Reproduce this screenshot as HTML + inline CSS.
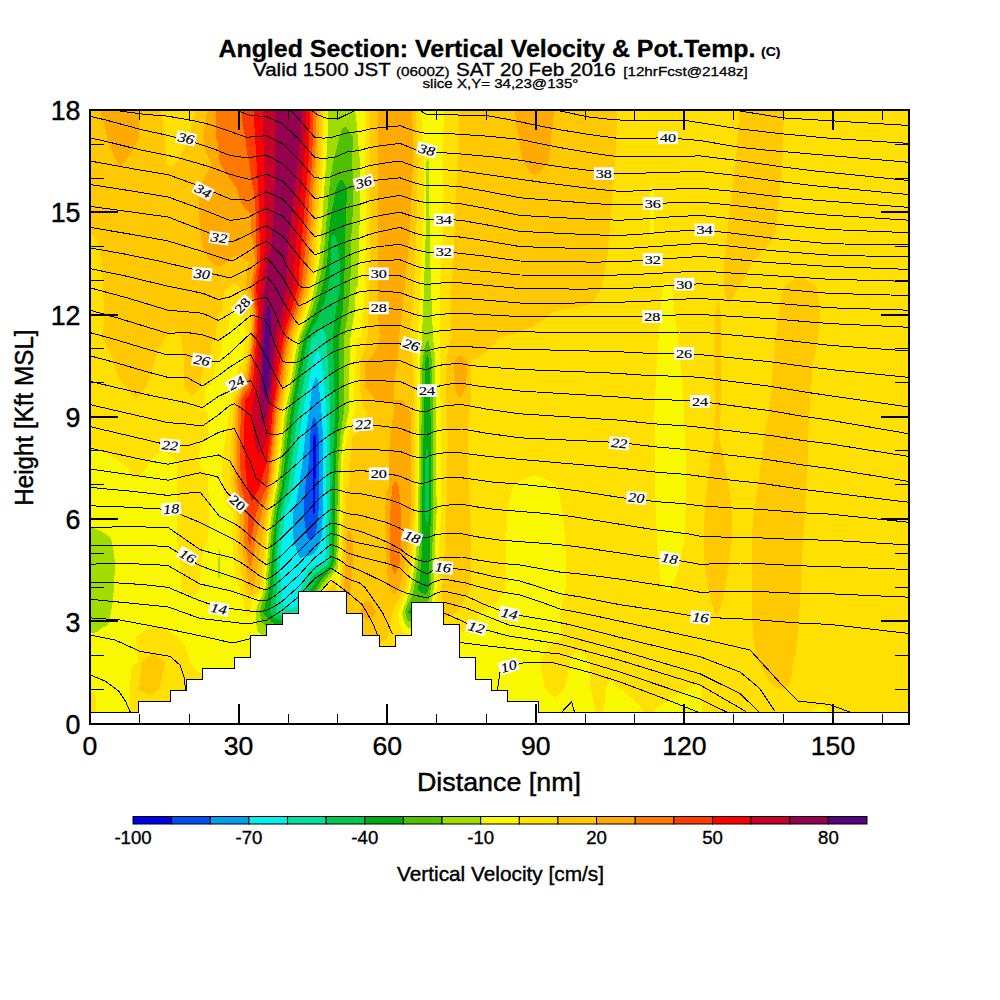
<!DOCTYPE html>
<html><head><meta charset="utf-8"><title>Angled Section: Vertical Velocity &amp; Pot.Temp.</title>
<style>html,body{margin:0;padding:0;background:#fff}svg{display:block}text{font-family:"Liberation Sans",sans-serif;fill:#000}.lb text{font-family:"Liberation Serif","DejaVu Serif",serif}</style></head><body>
<svg width="1000" height="1000" viewBox="0 0 1000 1000">
<rect width="1000" height="1000" fill="#fff"/>
<g shape-rendering="crispEdges">
<rect x="90" y="110" width="819" height="602.5" fill="#ffe000"/>
<path fill="#ffc800" fill-rule="evenodd" d="M90.0 110.0 161.0 110.0 164.9 137.0 166.0 162.0 167.4 164.0 171.0 167.2 175.5 163.0 178.0 159.5 184.2 149.0 189.8 138.0 191.7 123.0 195.0 112.0 195.0 110.0 322.4 110.0 321.5 138.0 319.0 187.0 313.8 263.0 309.5 288.0 306.0 301.4 302.8 313.0 298.0 325.3 293.9 338.0 289.5 362.0 285.9 388.0 281.1 412.0 273.0 487.0 268.1 512.0 266.5 524.0 263.0 562.4 260.0 587.0 257.6 591.0 252.0 595.6 248.0 595.2 245.4 591.0 239.1 558.0 237.0 538.0 236.5 513.0 231.4 488.0 230.0 463.0 234.0 400.0 235.1 396.0 239.0 387.2 240.7 378.0 244.0 369.6 245.9 363.0 249.4 338.0 249.7 312.0 240.0 287.4 237.0 284.5 234.0 282.5 229.0 287.5 225.9 289.0 224.5 291.0 223.5 296.0 222.0 312.0 220.0 312.1 218.0 314.0 217.3 316.0 216.5 323.0 216.1 337.0 213.0 340.7 211.7 344.0 210.6 351.0 210.0 362.1 205.0 365.8 203.0 369.4 201.6 375.0 200.0 388.0 196.2 392.0 192.0 395.3 187.9 392.0 184.2 387.0 184.2 362.0 181.1 338.0 177.9 333.0 173.0 329.0 165.4 337.0 160.0 346.8 155.0 359.4 148.6 381.0 146.2 387.0 144.0 390.9 140.5 395.0 136.0 398.3 130.3 393.0 127.0 387.9 121.7 382.0 118.8 377.0 116.3 371.0 113.8 362.0 103.0 337.9 104.0 314.0 103.8 303.0 101.9 270.0 100.2 253.0 99.0 246.0 97.4 241.0 90.0 230.4ZM369.6 110.0 416.0 110.0 417.6 162.0 417.0 212.0 414.0 287.0 412.3 313.0 410.0 337.0 411.2 351.0 413.1 362.0 414.5 412.0 414.0 512.0 412.4 537.0 409.5 562.0 405.4 587.0 392.5 611.0 388.1 637.0 385.3 640.0 380.0 643.8 369.0 640.3 361.4 637.0 353.3 631.0 346.0 624.2 344.3 618.0 342.5 608.0 341.0 588.0 342.7 562.0 344.0 512.7 346.0 512.0 346.0 488.0 347.0 487.0 349.0 487.0 349.0 463.0 350.0 462.9 351.2 458.0 352.0 438.0 358.0 432.1 361.6 427.0 364.5 421.0 367.1 413.0 364.2 407.0 362.4 402.0 359.7 387.0 360.2 362.0 367.7 337.0 370.6 213.0 369.6 162.0ZM459.0 110.0 617.0 110.0 616.7 126.0 615.3 159.0 608.0 251.0 602.1 287.0 598.5 294.0 595.0 299.0 590.0 304.2 552.0 312.6 542.0 321.0 531.0 327.4 517.0 332.9 500.0 337.5 494.3 344.0 488.0 350.1 480.0 356.6 474.0 359.6 471.0 363.0 470.6 402.0 469.9 410.0 469.0 413.0 467.8 438.0 467.8 462.0 471.0 537.0 471.0 587.0 457.7 612.0 455.0 613.6 443.0 618.2 441.0 612.0 442.7 581.0 443.0 562.9 444.4 555.0 445.7 529.0 446.8 497.0 447.7 438.0 446.0 387.0 446.0 363.0 448.0 350.5 451.0 337.0 451.0 288.0 452.5 277.0 454.0 237.8 454.7 231.0 456.0 187.9 457.2 179.0 458.6 151.0ZM739.0 110.0 784.0 110.0 782.6 155.0 781.4 177.0 780.0 187.7 779.1 203.0 776.3 228.0 774.6 236.0 773.6 238.0 766.0 247.5 752.0 262.7 746.0 275.6 738.0 287.5 734.2 296.0 730.0 302.7 728.0 301.7 726.0 299.3 724.5 293.0 724.0 287.0 724.5 260.0 725.4 247.0 727.0 237.3 728.1 223.0 730.0 212.3 731.4 196.0 733.0 187.3 734.3 171.0 736.0 162.2 736.8 147.0 738.0 137.2ZM791.0 281.3 800.0 276.8 803.0 278.0 809.0 281.0 816.5 287.0 818.3 296.0 820.0 313.0 817.4 342.0 815.5 353.0 813.0 362.8 811.0 387.7 807.7 438.0 807.5 468.0 806.0 487.8 804.5 522.0 803.0 537.8 801.5 575.0 797.7 638.0 795.8 653.0 793.0 662.7 791.7 674.0 790.0 681.5 787.4 687.0 781.0 689.1 775.1 687.0 767.0 677.0 758.2 662.0 755.2 652.0 753.3 637.0 752.1 615.0 751.8 537.0 753.7 512.0 759.5 476.0 764.0 437.7 769.0 412.0 774.9 347.0 777.6 322.0 780.9 300.0 782.9 291.0 784.4 287.0ZM715.4 313.0 718.0 300.0 719.3 303.0 720.7 313.0 720.7 412.0 719.1 437.0 722.9 452.0 727.5 477.0 729.7 493.0 732.0 513.0 732.0 537.0 728.1 569.0 723.7 595.0 721.0 606.0 717.0 615.5 716.0 615.4 714.4 612.0 707.9 587.0 704.7 563.0 703.8 537.0 704.7 513.0 707.1 487.0 710.1 462.0 715.3 437.0ZM330.0 587.3 335.0 582.1 336.3 588.0 335.0 598.6 328.0 591.0ZM152.0 654.0 155.0 654.6 164.4 662.0 164.9 663.0 160.1 687.0 156.3 691.0 150.0 695.1 142.7 692.0 136.7 688.0 137.0 687.0 139.0 686.0 140.2 683.0 141.0 662.9Z"/>
<path fill="#ffaa00" fill-rule="evenodd" d="M101.0 110.0 140.0 110.0 138.8 138.0 132.4 151.0 124.0 162.6 121.0 167.9 113.6 155.0 109.0 144.0 101.1 113.0ZM207.0 110.0 319.7 110.0 316.9 175.0 311.1 263.0 307.0 288.3 300.6 312.0 293.2 332.0 290.5 343.0 286.8 364.0 284.0 387.3 278.9 413.0 270.9 488.0 265.3 513.0 262.0 537.6 254.1 587.0 252.0 591.2 249.8 587.0 247.3 577.0 240.2 539.0 240.0 513.0 234.6 488.0 233.5 463.0 236.2 400.0 241.3 388.0 246.2 372.0 249.0 355.4 251.0 338.0 252.4 312.0 250.0 299.3 246.3 287.0 247.1 269.0 247.9 265.0 249.0 263.0 248.8 262.0 238.0 255.4 231.0 258.3 225.3 263.0 219.0 267.0 212.6 263.0 208.8 259.0 205.3 253.0 202.8 246.0 200.6 235.0 199.3 219.0 199.1 205.0 199.8 189.0 200.2 187.0 211.8 163.0 208.1 157.0 206.3 153.0 204.4 146.0 203.1 138.0ZM377.8 110.0 412.1 110.0 413.0 138.0 413.0 162.0 410.3 220.0 410.0 237.1 408.5 245.0 407.2 263.0 405.7 274.0 405.0 287.3 403.6 296.0 402.2 313.0 399.9 328.0 397.3 362.0 394.3 384.0 394.0 402.0 393.0 402.4 378.0 402.4 375.0 399.8 371.0 393.6 365.0 387.0 365.0 363.0 371.0 357.1 374.5 352.0 377.7 345.0 380.0 337.0 377.7 312.0ZM515.0 110.0 554.0 110.0 553.2 124.0 551.0 137.7 550.0 151.5 547.9 162.0 545.0 166.7 542.1 170.0 535.0 175.0 530.7 172.0 527.1 168.0 524.7 164.0 522.0 157.7 520.2 149.0 519.0 137.7 516.5 126.0ZM456.0 359.3 460.0 354.5 464.0 357.7 467.0 361.6 467.1 363.0 466.0 387.1 460.0 397.8 458.0 396.9 455.0 387.1 454.0 363.0ZM394.0 401.0 395.0 400.1 403.0 400.1 411.0 413.0 411.0 512.0 409.7 522.0 409.0 537.2 406.7 548.0 404.9 563.0 400.1 587.0 395.0 594.6 391.8 592.0 390.0 587.5 388.7 586.0 387.8 581.0 386.3 555.0 385.0 513.0 385.9 494.0 386.9 490.0 389.0 487.0 389.0 462.0 389.7 442.0 391.3 427.0 394.0 412.0ZM349.0 530.0 350.8 533.0 352.8 538.0 352.8 564.0 351.3 586.0 349.4 594.0 347.0 597.9 343.9 587.0 345.4 567.0 346.6 538.0 347.0 535.3ZM364.3 603.0 368.0 600.7 373.0 606.0 375.9 612.0 375.2 614.0 373.0 616.9 368.0 620.6 362.0 614.8 360.1 612.0 362.6 605.0Z"/>
<path fill="#ff7800" fill-rule="evenodd" d="M216.0 110.0 316.8 110.0 314.9 162.0 313.3 187.0 308.0 262.0 304.8 287.0 297.6 312.0 292.1 327.0 288.9 338.0 284.6 362.0 281.6 387.0 276.5 413.0 274.4 438.0 268.9 488.0 267.0 497.1 262.6 510.0 256.1 537.0 253.4 556.0 251.4 566.0 250.0 569.6 243.6 538.0 243.5 513.0 237.6 487.0 236.6 462.0 238.6 400.0 246.0 383.3 247.6 378.0 249.1 370.0 251.7 347.0 254.4 312.0 253.0 300.5 250.4 287.0 254.0 270.0 255.1 263.0 255.0 259.8 253.0 239.1 252.0 237.2 251.0 237.0 251.0 213.0 250.0 213.0 246.7 210.0 242.6 205.0 239.4 198.0 236.3 187.0 227.0 174.8 219.7 163.0 218.0 145.0 216.0 137.0ZM391.9 487.0 395.0 480.5 397.0 483.0 399.0 487.8 401.0 513.0 401.0 537.0 400.0 562.0 395.0 575.0 390.0 562.0 389.8 537.0 390.0 513.0 391.2 503.0Z"/>
<path fill="#ff3c00" fill-rule="evenodd" d="M241.4 110.0 313.6 110.0 312.0 163.0 306.0 242.0 301.6 287.0 294.6 312.0 288.9 328.0 285.4 343.0 282.1 362.0 279.1 387.0 274.6 412.0 272.4 438.0 267.0 487.3 263.5 494.0 256.6 512.0 254.1 523.0 250.0 547.5 247.6 537.0 247.5 512.0 241.5 487.0 240.0 462.0 240.0 438.0 241.5 400.0 244.4 394.0 249.1 387.0 252.7 356.0 256.0 313.0 253.6 287.0 257.4 262.0 256.0 237.0 255.7 213.0 254.0 192.4 251.2 178.0 249.2 162.0 247.0 153.0 245.2 137.0 242.8 125.0Z"/>
<path fill="#ff0000" fill-rule="evenodd" d="M253.5 110.0 310.0 110.0 310.0 112.0 308.5 162.0 299.5 268.0 298.3 287.0 294.6 298.0 291.0 312.3 285.8 328.0 282.0 345.0 276.6 387.0 272.5 412.0 270.4 438.0 267.0 462.5 263.2 474.0 260.0 487.3 256.2 493.0 252.0 502.0 250.0 494.8 247.0 487.0 246.2 473.0 244.8 462.0 244.0 438.0 245.0 400.0 249.0 395.8 251.0 391.3 252.2 386.0 253.6 374.0 258.0 313.0 256.1 287.0 258.4 276.0 260.2 262.0 258.8 202.0Z"/>
<path fill="#c80028" fill-rule="evenodd" d="M262.5 110.0 306.4 110.0 306.4 112.0 305.6 137.0 304.0 162.0 294.8 257.0 293.5 287.0 289.9 299.0 287.0 312.3 281.6 330.0 279.4 341.0 277.0 358.0 273.9 388.0 270.0 413.0 268.0 438.3 262.0 451.1 259.6 453.0 258.0 456.2 254.0 437.4 252.0 412.0 253.0 400.0 254.7 395.0 256.0 387.0 260.0 313.0 260.5 288.0 264.0 262.0 264.8 237.0 264.0 162.0Z"/>
<path fill="#960050" fill-rule="evenodd" d="M275.3 110.0 302.1 110.0 302.1 113.0 300.6 137.0 299.3 147.0 298.1 163.0 296.4 173.0 295.1 188.0 293.3 199.0 288.4 241.0 287.0 262.0 287.3 287.0 284.0 297.0 282.0 312.2 279.4 318.0 277.4 326.0 274.5 349.0 271.4 388.0 267.0 414.5 264.0 424.3 263.0 425.3 261.8 423.0 260.0 412.0 261.0 338.0 264.5 292.0 266.6 280.0 268.0 260.7 270.1 251.0 271.8 239.0 273.6 213.0 275.2 162.0Z"/>
<path fill="#5a0082" fill-rule="evenodd" d="M268.0 305.2 269.0 304.7 269.9 307.0 271.0 313.0 270.0 362.0 269.0 387.1 266.0 398.4 264.0 394.9 263.0 388.0 263.0 362.0 263.7 338.0 265.2 326.0 266.0 312.7Z"/>
<path fill="#f8f800" fill-rule="evenodd" d="M324.8 110.0 365.0 110.0 365.0 162.0 366.0 188.0 366.0 237.0 364.0 312.2 362.0 313.0 362.0 337.0 357.0 337.6 356.5 342.0 355.2 362.0 354.4 387.0 354.6 412.0 347.0 437.6 343.3 462.0 339.3 603.0 339.0 606.0 338.0 601.4 337.2 583.0 336.3 579.0 335.0 576.6 326.4 587.0 324.0 591.0 329.8 600.0 335.0 609.7 336.0 610.6 336.6 613.0 335.5 623.0 333.6 630.0 331.2 634.0 326.9 638.0 330.4 642.0 334.2 645.0 339.0 647.8 345.0 650.2 360.0 653.8 380.0 656.2 388.4 654.0 395.0 650.0 409.0 647.8 421.0 645.1 431.2 642.0 441.0 637.8 458.0 633.6 465.0 631.0 471.0 627.4 476.0 621.8 480.0 612.7 490.0 607.5 496.0 602.7 501.6 596.0 505.8 588.0 506.0 538.0 507.5 513.0 512.4 488.0 516.0 484.1 521.0 480.6 527.0 477.7 535.0 475.0 543.0 477.7 549.0 480.6 554.0 484.1 557.7 488.0 562.5 512.0 565.0 538.0 566.0 563.0 566.0 587.0 560.0 613.0 561.9 637.0 560.0 639.5 555.0 641.8 548.4 648.0 544.0 654.2 540.2 662.0 541.6 672.0 544.6 686.0 545.3 688.0 548.0 691.3 555.0 697.1 561.0 692.8 565.1 687.0 570.1 662.0 571.6 657.0 574.6 653.0 580.0 650.4 586.0 657.0 590.0 663.0 590.0 687.0 596.0 712.0 316.2 712.0 316.2 711.0 308.4 700.0 301.0 688.0 296.8 687.0 269.0 683.9 215.0 679.8 208.0 677.4 203.0 675.1 196.0 670.1 190.9 664.0 190.0 662.4 188.4 655.0 186.5 649.0 184.0 644.1 181.0 640.4 173.8 634.0 169.0 630.6 163.0 627.7 155.0 625.0 150.0 626.9 145.2 630.0 138.7 635.0 136.0 638.0 137.2 653.0 138.9 662.0 133.2 665.0 132.0 667.0 131.1 670.0 130.1 685.0 130.0 712.0 96.0 712.0 96.0 695.0 93.0 693.2 90.0 692.2 90.0 445.0 100.0 449.7 111.7 457.0 121.0 461.9 130.0 470.9 137.0 479.9 139.9 477.0 152.0 459.0 156.0 455.4 163.0 451.0 170.0 454.4 174.5 459.0 176.4 463.0 177.1 475.0 177.2 538.0 178.4 553.0 180.0 562.9 180.9 587.0 182.8 591.0 185.8 595.0 190.0 598.6 190.9 598.0 196.0 593.6 199.7 588.0 201.1 562.0 204.0 549.9 208.3 537.0 209.0 512.0 208.0 475.0 207.0 473.4 205.0 473.0 202.0 469.9 199.8 466.0 198.5 462.0 199.5 451.0 201.2 444.0 203.0 441.0 205.0 439.1 208.0 439.1 208.0 412.0 207.0 412.8 205.0 412.0 205.0 388.0 210.3 384.0 213.0 379.5 214.8 373.0 216.0 362.8 218.6 359.0 220.2 355.0 221.5 349.0 223.0 337.5 226.0 333.0 228.0 328.0 231.0 312.4 234.0 308.4 237.0 306.2 243.0 312.9 244.4 328.0 247.0 337.4 245.4 340.0 244.4 344.0 243.0 362.3 240.0 364.4 238.0 367.8 236.8 374.0 236.0 387.1 233.0 389.2 231.6 393.0 231.0 400.0 229.7 405.0 229.0 413.8 227.5 421.0 226.1 438.0 224.0 446.8 222.6 456.0 222.0 463.0 222.3 475.0 223.1 488.0 225.2 499.0 228.0 506.3 232.9 513.0 232.2 540.0 235.6 580.0 237.0 584.6 240.0 587.8 241.0 596.4 242.0 598.5 244.0 600.0 244.9 612.0 248.0 617.6 251.0 612.2 252.0 600.0 259.1 595.0 262.0 591.0 263.4 587.0 267.7 531.0 269.9 513.0 274.8 487.0 283.1 412.0 287.7 389.0 291.6 362.0 296.4 338.0 299.0 329.4 305.3 313.0 309.5 298.0 311.9 288.0 316.4 263.0 321.7 187.0ZM421.0 110.0 444.0 110.0 442.5 162.0 442.5 237.0 440.0 288.0 441.0 513.0 437.5 588.0 436.2 602.0 434.3 613.0 433.2 629.0 431.9 632.0 428.7 634.0 423.0 634.9 411.0 635.4 405.9 634.0 403.4 632.0 401.4 629.0 399.3 623.0 398.0 613.0 408.5 587.0 412.5 562.0 415.2 533.0 417.0 462.0 417.4 338.0 419.0 312.3 421.5 251.0 424.0 212.0 423.9 159.0ZM650.4 188.0 652.0 184.6 653.6 188.0 653.6 237.0 652.0 241.6 650.4 237.0ZM663.0 285.7 667.0 280.7 669.0 283.0 672.1 288.0 673.3 297.0 674.0 312.2 676.7 327.0 683.0 388.0 686.0 463.0 686.0 487.0 684.9 538.0 679.9 563.0 677.0 573.9 672.2 587.0 668.0 594.0 664.0 587.3 662.0 585.0 660.9 582.0 659.7 575.0 659.0 562.7 657.5 554.0 655.4 498.0 654.4 413.0 656.3 372.0 659.7 322.0 661.0 312.1 661.8 289.0ZM607.4 685.0 611.0 680.5 612.0 681.2 618.0 687.6 625.0 692.1 632.1 698.0 639.4 706.0 643.0 711.0 643.0 712.0 603.0 712.0 604.8 701.0 606.0 687.9ZM690.0 687.7 696.0 681.2 696.8 682.0 701.0 688.0 702.0 712.0 655.0 712.0 655.0 711.0 657.0 708.9 666.1 701.0 679.0 692.7 685.0 690.8 688.0 689.2ZM812.1 710.0 820.0 704.5 824.0 707.1 828.0 711.0 828.0 712.0 811.0 712.0 811.0 711.0Z"/>
<path fill="#a0dc00" fill-rule="evenodd" d="M328.0 110.0 355.0 110.0 356.6 123.0 360.0 163.0 360.0 213.0 359.0 238.0 359.0 262.0 358.0 263.0 358.0 287.0 356.0 287.4 354.3 313.0 350.4 338.0 348.8 387.0 348.8 412.0 343.0 437.6 340.8 462.0 338.1 567.0 337.2 570.0 335.0 571.2 332.0 575.9 324.0 586.0 321.0 591.0 325.2 600.0 329.9 613.0 326.6 621.0 322.0 627.0 318.0 630.1 313.0 632.6 306.0 634.9 298.0 636.5 276.0 636.3 265.0 635.5 260.2 634.0 257.8 631.0 256.4 624.0 255.8 612.0 257.9 604.0 262.0 596.4 263.0 591.0 265.5 587.0 269.0 535.9 271.9 513.0 276.7 487.0 281.5 447.0 285.0 412.7 288.8 395.0 294.1 362.0 298.7 337.0 306.5 317.0 312.2 298.0 319.3 262.0 326.6 155.0 327.7 133.0ZM426.9 159.0 428.0 158.3 429.0 163.0 429.7 237.0 431.0 287.2 433.0 337.0 434.4 350.0 435.2 370.0 436.0 412.0 436.6 513.0 435.0 537.8 434.0 587.0 432.0 600.2 429.5 609.0 425.5 618.0 423.6 621.0 421.0 623.8 418.0 625.9 411.0 628.8 408.0 627.6 406.0 625.1 403.8 620.0 402.1 613.0 409.4 593.0 411.1 587.0 414.9 563.0 417.5 538.0 419.0 463.0 420.0 363.0 422.0 337.0 424.0 287.0 425.6 237.0 426.0 163.0ZM90.0 633.8 90.0 526.4 101.0 531.2 107.3 535.0 110.9 538.0 113.4 550.0 115.0 563.0 114.0 587.0 112.9 600.0 111.1 612.0 108.0 625.0 101.3 628.0 97.0 632.0ZM218.6 549.0 219.0 548.0 219.7 550.0 219.7 578.0 219.0 579.4 218.3 578.0Z"/>
<path fill="#50c000" fill-rule="evenodd" d="M342.0 128.6 346.0 126.6 353.1 137.0 352.0 162.0 353.6 188.0 352.8 213.0 351.2 238.0 350.3 288.0 347.9 313.0 344.0 338.0 344.0 412.0 340.2 436.0 338.4 462.0 336.3 562.0 335.4 565.0 332.7 570.0 322.7 583.0 318.0 591.0 321.0 600.0 323.2 612.0 323.0 613.1 319.9 618.0 316.3 622.0 312.6 625.0 308.0 627.7 302.0 630.2 298.0 631.5 282.0 631.4 276.0 630.4 272.0 629.2 267.3 627.0 264.0 624.7 263.0 623.9 261.3 620.0 259.6 612.0 263.0 600.0 267.6 587.0 270.9 537.0 274.0 512.7 279.1 487.0 287.7 412.0 291.6 393.0 300.9 338.0 312.7 308.0 322.3 267.0 323.2 262.0 329.0 190.5 332.6 164.0 341.2 131.0ZM424.3 349.0 427.0 340.2 428.0 340.3 429.2 344.0 431.8 360.0 432.9 405.0 433.5 512.0 431.0 587.0 429.2 598.0 427.0 603.8 423.7 607.0 420.7 613.0 418.0 616.7 415.0 619.6 411.0 622.3 408.0 620.3 407.0 618.8 405.2 612.0 407.0 606.4 412.0 595.8 413.2 592.0 417.5 566.0 419.1 550.0 420.0 537.0 421.0 438.0 422.0 412.0 422.5 363.0Z"/>
<path fill="#00aa14" fill-rule="evenodd" d="M339.9 180.0 342.0 179.4 346.9 188.0 346.2 213.0 344.8 237.0 344.8 263.0 343.6 297.0 342.5 311.0 339.2 338.0 339.5 412.0 337.3 434.0 335.7 463.0 334.1 562.0 330.3 569.0 326.0 574.7 321.0 580.1 314.4 591.0 316.5 600.0 316.7 612.0 315.5 614.0 312.0 617.8 308.0 621.1 298.0 626.5 283.0 626.5 276.0 624.5 271.7 622.0 266.0 616.8 263.3 613.0 263.3 612.0 264.9 607.0 266.0 600.0 267.8 596.0 269.9 588.0 273.3 537.0 276.6 512.0 281.6 487.0 290.7 412.0 303.9 338.0 315.4 312.0 324.2 280.0 327.1 263.0 329.4 228.0 331.0 214.0 333.9 201.0 336.0 187.6ZM425.0 363.0 427.0 355.3 428.0 355.6 429.4 363.0 431.0 438.0 431.0 513.0 429.8 545.0 429.0 587.0 427.0 594.2 423.0 593.4 420.1 592.0 418.4 590.0 417.9 588.0 420.2 577.0 422.5 543.0 422.0 512.0ZM408.0 611.9 411.0 607.5 412.8 609.0 414.2 612.0 413.9 613.0 411.0 615.8 408.0 613.0Z"/>
<path fill="#00c850" fill-rule="evenodd" d="M332.8 235.0 334.8 236.0 336.0 237.6 339.9 262.0 340.5 287.0 337.2 302.0 334.1 324.0 332.8 337.0 335.2 412.0 332.8 463.0 331.5 562.0 329.3 566.0 326.0 570.5 320.5 575.0 315.0 581.8 310.0 591.0 310.9 600.0 310.0 612.0 309.5 613.0 304.0 617.8 298.0 621.5 283.0 621.5 275.0 618.0 271.0 614.2 269.7 612.0 273.0 591.0 274.0 562.0 275.8 538.0 277.6 523.0 279.1 512.0 284.6 487.0 289.3 453.0 294.0 412.7 307.5 338.0 311.0 330.1 317.3 320.0 320.0 312.5 323.7 305.0 326.0 297.6 329.5 280.0 330.7 262.0 331.0 237.9ZM425.0 462.9 427.0 446.2 428.0 450.8 429.0 463.0 429.0 512.0 427.0 525.0 425.0 512.1 424.7 488.0Z"/>
<path fill="#00e0a0" fill-rule="evenodd" d="M320.9 329.0 322.0 328.7 324.2 331.0 326.2 337.0 329.9 396.0 330.5 437.0 329.6 463.0 329.6 513.0 328.8 562.0 326.0 566.2 319.0 570.3 314.6 574.0 311.9 577.0 309.4 581.0 305.0 591.0 305.3 600.0 303.4 612.0 302.7 613.0 298.0 616.5 283.0 616.5 277.0 613.4 275.7 612.0 276.2 600.0 277.5 591.0 276.6 587.0 276.6 562.0 278.2 538.0 281.5 513.0 284.0 502.1 288.6 487.0 298.0 412.6 308.6 357.0 311.7 338.0 317.0 333.9Z"/>
<path fill="#00f0f0" fill-rule="evenodd" d="M313.0 361.8 317.0 351.2 319.7 355.0 321.5 362.0 324.7 387.0 326.4 413.0 327.0 437.0 326.4 463.0 326.6 513.0 326.0 547.5 325.2 562.0 314.0 566.0 310.8 568.0 307.8 571.0 304.6 577.0 302.0 587.3 300.5 590.0 299.0 595.7 298.0 606.2 290.0 608.9 287.0 607.8 284.0 605.7 281.0 600.0 282.0 591.0 281.0 587.0 280.1 563.0 281.2 554.0 281.9 537.0 283.5 529.0 284.9 512.0 287.5 507.0 289.7 501.0 293.1 487.0 302.9 413.0 307.6 387.0Z"/>
<path fill="#00a0f0" fill-rule="evenodd" d="M312.0 387.7 316.0 376.4 317.0 376.8 319.1 387.0 322.0 418.7 323.0 437.0 322.9 512.0 321.5 537.0 318.8 546.0 314.3 553.0 311.0 555.3 304.0 556.6 300.0 558.3 296.3 549.0 293.1 538.0 293.0 513.0 296.8 499.0 302.4 463.0 305.1 437.0 309.8 407.0Z"/>
<path fill="#0050f0" fill-rule="evenodd" d="M311.8 424.0 314.0 416.0 316.7 422.0 319.0 437.0 319.2 488.0 318.4 513.0 316.9 527.0 314.4 537.0 311.0 540.5 307.7 538.0 307.0 536.6 305.0 525.0 303.5 512.0 305.0 487.8 309.0 462.3 310.2 435.0Z"/>
<path fill="#0000e6" fill-rule="evenodd" d="M312.9 438.0 314.0 433.6 315.0 434.4 316.0 438.0 315.1 512.0 314.0 514.8 312.8 512.0 312.8 488.0Z"/>
</g>
<rect x="90" y="712.5" width="819" height="10.5" fill="#fff"/>
<polygon points="138,712.5 138,701.75 170.5,701.75 170.5,690.75 186,690.75 186,679.5 202.5,679.5 202.5,668 234.5,668 234.5,657 250.5,657 250.5,635.5 266.5,635.5 266.5,624.5 282.5,624.5 282.5,613.75 298,613.75 298,591.25 346,591.25 346,613.75 362.5,613.75 362.5,635.5 379.5,635.5 379.5,646.25 395,646.25 395,635.5 411,635.5 411,602.5 443,602.5 443,624.5 459.5,624.5 459.5,657 475.75,657 475.75,679.25 491.75,679.25 491.75,690.25 507.5,690.25 507.5,701.25 538.75,701.25 538.75,712.5 538.75,723 138,723" fill="#fff"/>
<polyline points="90,712.5 138,712.5 138,701.75 170.5,701.75 170.5,690.75 186,690.75 186,679.5 202.5,679.5 202.5,668 234.5,668 234.5,657 250.5,657 250.5,635.5 266.5,635.5 266.5,624.5 282.5,624.5 282.5,613.75 298,613.75 298,591.25 346,591.25 346,613.75 362.5,613.75 362.5,635.5 379.5,635.5 379.5,646.25 395,646.25 395,635.5 411,635.5 411,602.5 443,602.5 443,624.5 459.5,624.5 459.5,657 475.75,657 475.75,679.25 491.75,679.25 491.75,690.25 507.5,690.25 507.5,701.25 538.75,701.25 538.75,712.5 909,712.5" fill="none" stroke="#000" stroke-width="1" shape-rendering="crispEdges"/>
<path d="M90.0 582.2 108.0 582.5 127.0 583.4 148.0 585.1 168.0 587.3 198.0 600.0 218.0 607.0 252.9 611.4 260.8 611.4 265.7 610.6 267.7 609.9 275.7 605.5 282.7 600.8 298.8 586.4 314.8 568.0 330.9 556.8 334.9 557.9 339.0 559.7 343.0 562.3 347.0 565.6 360.0 570.4 383.0 581.6 400.0 590.6 407.0 593.3 427.0 598.0 435.0 593.8 443.0 591.0 449.0 592.3 466.0 596.0 485.1 604.8 509.3 613.8 543.1 619.3 570.0 624.7 620.0 637.4 700.0 656.7 740.0 672.0 759.6 688.4 774.6 711.0M90.0 564.2 108.0 563.6 128.0 563.7 149.0 564.3 168.0 565.5 200.0 584.0 232.0 591.2 256.8 599.9 261.7 600.8 266.7 600.8 274.7 595.8 282.7 589.6 298.8 575.2 314.8 557.6 327.9 546.8 330.9 544.8 331.9 545.0 339.0 547.4 343.0 549.8 347.0 552.8 360.0 556.8 388.0 563.6 400.0 568.0 406.0 574.1 412.0 578.9 418.0 582.3 427.0 586.0 434.0 582.0 443.0 579.0 466.0 583.0 479.0 586.8 492.0 590.0 505.0 592.6 520.0 595.0 543.0 602.7 560.0 609.0 590.0 614.7 714.0 641.7 750.0 650.0 782.0 685.0 798.0 701.0 830.0 704.6 850.0 712.1M90.0 545.8 108.0 545.2 128.0 545.1 149.0 545.6 168.0 546.6 200.0 565.6 212.0 570.0 241.9 580.0 259.8 588.1 262.7 589.0 266.7 589.6 273.7 585.6 280.7 580.1 298.8 564.0 314.8 546.4 326.9 536.3 330.9 533.6 331.9 533.7 339.0 535.4 343.0 537.4 347.0 540.0 360.0 543.2 387.0 548.6 400.0 553.0 407.0 560.7 413.0 566.2 419.0 570.1 427.0 574.0 434.0 570.0 443.0 567.0 466.0 570.0 493.0 576.5 520.0 581.0 560.0 593.7 582.0 597.2 620.0 604.7 663.0 611.1 700.0 617.1 752.0 619.4 795.0 622.8 830.0 624.4 909.0 633.5M90.0 527.4 129.0 526.7 168.0 527.4 200.0 549.6 212.0 553.0 232.0 557.6 242.9 563.8 258.8 575.2 262.7 577.5 266.7 579.2 270.7 577.2 274.7 574.6 282.7 568.0 298.8 551.2 316.8 533.4 326.9 525.6 330.9 523.2 331.9 523.2 339.0 524.3 343.0 525.9 347.0 528.0 360.0 531.2 378.0 538.2 388.0 542.5 400.0 549.0 408.0 555.0 414.0 558.5 420.0 560.6 427.0 561.8 433.0 559.2 440.0 557.7 449.0 557.2 462.0 557.0 475.0 559.6 491.0 562.2 504.0 563.7 520.0 565.0 560.0 572.1 580.0 574.0 620.0 579.1 678.0 588.0 700.0 592.3 740.0 591.0 751.0 591.1 793.0 593.2 830.0 593.8 909.0 597.2M90.0 505.8 129.0 507.2 168.0 509.5 200.0 522.4 234.0 539.5 241.0 544.0 258.8 559.6 266.7 564.8 273.7 561.3 280.7 556.1 289.7 547.6 318.8 518.7 328.9 510.8 330.9 509.6 332.9 509.5 340.0 510.6 347.0 513.6 360.0 515.2 386.0 522.4 400.0 528.2 407.0 532.5 413.0 535.5 417.0 536.9 421.0 537.6 427.0 537.8 434.0 535.1 442.0 533.8 462.0 533.8 480.0 537.3 500.0 540.1 552.0 544.0 575.0 546.4 647.0 557.0 683.0 561.3 700.0 564.3 740.0 563.0 748.0 563.1 799.0 565.8 830.0 566.6 909.0 569.5M90.0 487.4 128.0 490.9 168.0 495.4 183.0 493.6 200.0 492.0 219.2 516.0 233.1 522.9 239.0 526.5 244.9 531.2 256.8 542.0 262.7 546.4 266.7 548.8 273.7 544.7 280.7 538.7 294.8 525.0 305.8 513.4 314.8 503.2 321.8 496.4 330.9 489.6 333.9 489.5 340.0 490.2 347.0 492.8 360.0 493.6 388.0 499.4 400.0 503.4 414.0 510.3 420.0 511.7 427.0 511.4 434.0 507.9 442.0 505.8 450.0 504.9 462.0 504.2 478.0 507.1 496.0 509.5 546.0 513.5 569.0 516.1 651.0 529.2 687.0 533.7 700.0 536.2 731.0 537.4 759.0 537.8 799.0 539.7 830.0 540.2 909.0 545.0M90.0 469.0 168.0 480.2 182.0 476.7 200.0 472.8 217.6 476.8 226.4 492.0 255.9 521.6 261.8 526.8 266.7 530.4 270.7 528.0 274.7 525.1 291.8 509.7 300.8 501.1 316.8 483.6 322.9 478.3 328.9 474.0 330.9 472.8 336.9 471.4 342.0 471.3 347.0 472.0 360.0 470.4 379.0 472.5 394.0 474.9 400.0 476.2 412.0 481.4 419.0 483.2 423.0 483.2 427.0 482.6 433.0 479.9 441.0 478.2 449.0 477.7 462.0 477.8 491.0 481.9 520.0 484.2 556.0 488.0 578.0 490.9 620.0 497.5 656.0 501.6 684.0 503.7 700.0 505.8 731.0 507.9 761.0 509.4 801.0 512.7 830.0 514.1 909.0 522.3M90.0 448.2 147.0 460.5 168.0 464.2 184.0 460.9 218.5 455.0 230.0 461.1 236.5 472.8 250.6 494.0 259.7 503.5 266.7 509.6 270.7 507.5 275.7 504.1 291.8 490.5 303.8 479.0 318.8 462.9 324.9 457.5 330.9 453.0 335.9 451.2 341.0 450.2 360.0 449.4 380.0 450.0 400.0 451.4 413.0 456.4 420.0 457.7 427.0 457.0 433.0 454.5 440.0 453.2 448.0 452.7 462.0 453.0 479.0 455.3 498.0 457.4 620.0 468.2 658.0 472.3 686.0 474.4 729.0 479.9 760.0 483.2 803.0 489.4 909.0 502.3M90.0 426.6 168.0 445.0 186.4 446.0 202.4 441.2 218.5 432.4 228.1 429.7 234.5 428.6 250.6 462.4 256.0 478.0 266.7 486.4 270.7 484.8 274.7 482.5 287.7 472.1 307.8 454.1 318.8 443.1 328.9 435.3 335.9 431.1 343.0 428.2 350.0 426.3 360.0 424.7 377.0 425.6 400.0 428.2 413.0 433.4 420.0 434.9 427.0 434.6 434.0 431.7 442.0 430.0 450.0 429.3 462.0 429.0 487.0 433.3 520.0 437.8 620.0 442.6 656.0 446.9 687.0 449.6 729.0 455.1 762.0 458.8 802.0 464.9 830.0 468.5 909.0 481.5M90.0 404.6 168.0 422.6 186.4 424.0 202.4 426.0 218.5 414.8 230.0 405.2 234.5 403.9 241.5 408.2 250.6 415.6 256.0 433.8 261.2 449.4 266.7 461.8 270.7 461.3 274.7 460.1 278.7 458.3 282.7 455.9 290.8 447.4 298.8 437.7 306.8 431.7 320.8 419.7 337.9 407.8 347.0 402.6 353.0 401.1 360.0 400.0 373.0 400.8 400.0 403.8 414.0 409.6 418.0 410.8 422.0 411.4 427.0 411.4 434.0 408.3 443.0 406.1 451.0 405.2 462.0 404.6 485.0 408.8 520.0 413.8 620.0 420.2 651.0 423.6 691.0 426.3 769.0 435.3 802.0 440.4 830.0 443.9 909.0 456.5M90.0 381.4 147.0 394.7 186.4 402.8 202.4 407.6 218.5 396.4 230.0 390.9 240.8 384.7 250.6 380.5 256.0 390.9 261.2 410.4 266.7 433.2 273.7 434.5 277.7 434.4 282.7 433.2 289.7 427.3 298.8 418.2 306.8 412.1 317.8 402.7 325.9 396.7 336.9 389.5 344.0 385.7 351.0 382.9 360.0 380.5 364.0 380.4 400.0 381.4 417.0 389.2 421.0 390.3 426.0 390.9 427.0 391.0 435.0 387.3 442.0 385.3 451.0 383.8 462.0 383.0 469.0 384.6 481.0 386.4 520.0 391.0 615.0 396.8 647.0 399.3 683.0 400.3 700.0 401.4 772.0 411.0 804.0 416.5 830.0 420.2 909.0 433.8M90.0 355.8 114.0 362.2 147.0 371.8 168.0 377.4 186.4 377.2 202.4 386.0 218.5 375.6 230.0 366.9 244.7 357.8 250.6 354.8 261.2 374.0 269.0 402.6 275.8 407.5 282.7 410.4 289.7 406.0 298.8 398.7 308.8 391.8 322.9 380.0 328.9 375.4 337.9 369.5 347.0 364.9 355.0 362.6 362.0 361.5 400.0 360.6 416.0 367.4 421.0 368.8 425.0 369.3 427.0 369.4 434.0 366.6 443.0 364.7 452.0 363.9 462.0 363.8 470.0 365.3 480.0 366.4 520.0 369.4 615.0 373.2 649.0 375.6 682.0 376.3 700.0 377.4 770.0 386.3 808.0 392.5 909.0 407.0M90.0 332.6 112.0 338.6 149.0 349.7 168.0 355.0 186.4 354.8 202.4 359.6 211.5 361.2 218.5 362.0 230.0 352.8 250.6 333.3 256.0 338.5 257.0 340.2 266.7 358.0 275.7 376.2 282.7 388.3 289.7 384.1 298.8 376.6 307.8 370.4 321.8 359.4 328.9 354.5 332.9 352.2 342.0 348.5 350.0 346.3 365.0 344.4 377.0 343.8 400.0 343.8 416.0 349.4 421.0 350.5 426.0 351.0 427.0 351.0 435.0 348.6 442.0 347.4 450.0 346.6 462.0 346.2 484.0 347.9 503.0 348.8 620.0 351.8 652.0 353.5 679.0 353.6 698.0 354.4 770.0 361.7 809.0 367.0 838.0 370.3 909.0 377.4M90.0 310.2 118.0 318.1 168.0 333.4 186.4 332.4 202.4 334.8 218.5 340.4 230.0 332.7 250.6 315.8 254.7 316.0 257.7 316.7 263.8 319.0 269.0 326.8 274.2 342.4 282.7 361.7 289.7 362.8 293.8 362.6 298.8 361.7 306.8 356.6 322.9 344.5 330.9 339.0 339.0 334.6 347.0 331.0 354.0 329.2 366.0 326.9 374.0 326.0 384.0 325.6 400.0 325.4 415.0 330.9 421.0 332.5 427.0 333.4 434.0 331.7 442.0 330.5 462.0 329.4 503.0 331.3 553.0 332.4 620.0 332.6 646.0 333.0 680.0 332.0 700.0 332.1 772.0 338.6 830.0 345.4 909.0 351.0M90.0 287.8 127.0 297.8 168.0 310.2 202.4 313.2 218.5 320.4 230.0 313.8 245.0 304.2 250.9 301.0 257.8 298.6 266.7 297.6 269.0 300.8 274.2 311.2 282.7 332.0 285.9 335.9 288.9 338.3 293.8 341.5 298.8 343.7 305.8 339.0 314.8 332.0 345.0 314.8 352.0 311.8 360.0 309.3 371.0 308.3 381.0 308.4 400.0 309.4 415.0 314.5 421.0 315.9 427.0 316.6 434.0 315.1 442.0 314.1 462.0 313.4 520.0 316.6 548.0 317.0 641.0 316.6 681.0 314.8 700.0 314.5 774.0 318.8 813.0 322.3 835.0 323.8 909.0 327.3M90.0 268.6 125.0 275.9 168.0 286.2 202.4 293.2 218.5 299.6 230.0 296.9 242.8 290.2 250.6 287.0 258.7 281.4 266.7 276.8 274.2 285.2 282.7 300.8 287.8 309.3 293.8 318.5 298.8 324.9 306.8 320.2 314.8 314.5 330.9 304.7 340.0 300.0 352.0 294.7 360.0 291.7 369.0 290.8 380.0 291.0 400.0 292.6 415.0 298.1 421.0 299.7 427.0 300.6 434.0 299.3 442.0 298.5 462.0 298.2 520.0 303.0 575.0 303.0 640.0 301.7 681.0 299.2 700.0 298.5 777.0 303.3 830.0 307.8 909.0 310.2M90.0 247.9 123.0 253.7 157.0 260.6 230.0 278.0 250.6 268.0 257.6 262.9 266.7 257.9 271.6 263.1 282.7 277.4 292.8 295.9 298.8 306.0 306.8 302.5 314.8 297.6 321.8 294.2 339.0 284.9 351.0 279.5 360.0 276.1 366.0 275.2 373.0 274.8 400.0 275.8 415.0 281.7 421.0 283.5 427.0 284.6 434.0 283.6 442.0 282.9 462.0 283.0 520.0 288.6 580.0 289.1 615.0 288.7 643.0 287.6 680.0 284.8 700.0 283.8 780.0 289.2 830.0 293.4 909.0 295.5M90.0 227.4 133.0 234.6 168.0 241.0 199.0 250.4 230.0 260.5 234.5 259.9 250.6 250.1 256.6 246.0 266.7 241.0 282.7 256.0 287.2 267.0 295.0 278.7 298.8 285.2 302.8 287.8 308.0 287.8 309.9 287.0 321.8 281.3 341.0 270.9 352.0 266.1 360.0 263.1 367.0 261.5 374.0 260.7 400.0 259.8 415.0 265.7 421.0 267.5 427.0 268.6 438.0 268.0 450.0 268.4 485.0 271.4 520.0 275.0 574.0 275.5 608.0 275.3 639.0 274.3 700.0 271.0 830.0 279.3 909.0 281.4M90.0 206.3 168.0 217.0 204.0 230.9 230.0 241.7 234.5 241.0 250.6 233.2 257.6 229.4 266.7 225.7 282.7 236.0 303.9 262.4 313.2 272.2 323.0 268.3 344.0 257.3 353.0 253.5 363.0 250.0 369.0 248.3 376.0 247.0 400.0 244.2 414.0 249.3 425.0 251.9 427.0 252.2 441.0 251.8 452.0 252.5 482.0 255.8 520.0 261.0 592.0 262.1 620.0 261.8 700.0 256.5 723.0 258.2 765.0 262.3 830.0 266.5 909.0 269.4M90.0 184.5 130.0 190.7 168.0 197.0 205.0 210.5 230.0 220.5 247.0 217.9 256.9 212.6 266.7 208.8 282.7 216.0 298.8 235.0 308.8 248.0 314.8 254.7 321.8 252.4 336.9 245.3 348.0 241.1 360.0 238.0 368.0 234.8 375.0 232.7 400.0 227.4 415.0 233.2 426.0 236.0 445.0 235.9 462.0 237.2 487.0 241.0 520.0 246.6 593.0 248.9 620.0 249.0 700.0 243.4 727.0 245.8 771.0 250.6 830.0 255.2 909.0 257.0M90.0 161.0 138.0 169.7 168.0 174.6 201.0 186.7 230.0 199.0 249.5 200.3 257.6 195.8 266.7 191.9 282.7 199.0 298.8 217.0 306.8 227.5 314.8 236.7 323.9 234.1 337.9 228.1 347.0 224.7 360.0 221.1 369.0 218.0 380.0 215.5 400.0 212.2 414.0 216.8 424.0 219.0 427.0 219.4 445.0 219.1 462.0 220.5 488.0 225.1 520.0 231.4 594.0 234.9 620.0 235.4 642.0 234.1 667.0 231.8 700.0 229.8 732.0 233.1 776.0 238.7 830.0 243.9 909.0 244.5M90.0 137.8 108.0 141.9 139.0 149.6 168.0 155.4 184.0 159.3 211.0 167.2 230.0 174.3 249.5 179.5 257.6 176.6 266.7 174.2 282.7 181.0 298.8 199.0 307.8 210.6 314.8 218.5 321.8 216.8 330.9 213.0 347.0 207.4 360.0 204.2 370.0 200.8 381.0 198.5 400.0 195.4 414.0 200.0 424.0 202.2 427.0 202.6 445.0 202.5 462.0 204.0 488.0 208.8 520.0 215.4 594.0 219.5 620.0 220.2 642.0 219.1 667.0 217.1 700.0 215.4 734.0 218.9 779.0 224.5 830.0 229.5 909.0 232.7M90.0 116.2 108.0 120.6 142.0 129.8 168.0 135.4 191.0 141.3 212.0 148.2 230.0 155.5 248.0 158.0 256.9 156.3 266.7 155.3 282.7 163.8 298.8 179.6 307.8 190.8 314.8 198.4 320.9 197.8 327.9 195.9 351.0 186.8 367.0 182.0 378.0 180.0 400.0 177.8 415.0 183.1 425.0 185.5 427.0 185.8 445.0 185.7 462.0 187.0 488.0 191.6 520.0 197.8 595.0 203.7 620.0 205.0 642.0 204.4 667.0 203.0 700.0 202.1 735.0 205.5 778.0 210.5 821.0 214.6 909.0 220.2M113.0 110.0 144.0 114.3 168.0 116.2 195.0 121.0 205.0 123.3 214.0 125.9 246.9 137.3 256.8 136.2 266.7 135.9 282.7 143.6 298.8 159.8 311.8 174.8 314.8 177.8 315.8 177.9 322.0 178.1 329.2 177.3 340.0 172.8 351.0 170.1 360.0 168.5 370.0 165.5 382.0 163.4 400.0 161.0 416.0 167.0 427.0 169.8 444.0 169.7 462.0 171.0 543.0 182.5 592.0 188.6 611.0 190.6 620.0 191.4 629.0 191.2 664.0 189.4 700.0 188.2 734.0 191.4 774.0 196.2 809.0 199.7 909.0 207.4M235.0 110.0 250.6 115.5 266.7 116.6 282.7 123.8 298.8 139.0 307.8 149.8 314.8 157.3 318.8 158.0 325.7 158.2 334.7 157.3 347.0 152.0 360.0 150.3 368.0 148.0 376.0 146.4 400.0 143.4 416.0 149.9 427.0 153.0 439.0 152.8 451.0 153.1 492.0 156.8 520.0 160.2 545.0 164.5 567.0 167.7 606.0 172.5 620.0 173.8 700.0 171.4 735.0 175.4 776.0 181.1 815.0 185.8 909.0 194.6M290.5 110.0 313.8 136.3 314.8 137.3 317.8 137.8 323.9 138.1 330.9 137.5 347.0 133.0 360.0 131.4 371.0 128.8 383.0 127.3 400.0 125.8 415.0 131.0 427.0 133.8 442.0 133.6 455.0 134.0 489.0 136.3 520.0 139.4 547.0 145.1 570.0 149.4 596.0 153.7 620.0 157.0 655.0 156.8 700.0 155.9 737.0 160.4 777.0 166.2 815.0 171.0 909.0 180.5M419.0 110.0 427.0 114.6 445.0 114.4 462.0 115.2 486.0 115.4 507.0 119.2 545.0 127.0 563.0 130.3 594.0 135.2 620.0 138.6 668.0 137.8 700.0 140.5 740.0 147.4 770.0 150.5 909.0 162.3M555.0 110.0 590.0 117.2 610.0 119.3 623.0 120.2 684.0 120.2 740.0 129.0 782.0 133.8 830.0 138.3 909.0 143.4M734.0 110.0 782.0 117.8 909.0 125.5M90.0 674.9 105.0 681.0 118.6 691.0 125.4 701.0 130.5 712.5M497.5 690.0 500.0 672.5 508.8 666.3 525.0 662.5 552.5 662.5 590.0 672.5 620.0 681.9 660.0 697.0 699.0 712.5M459.5 642.5 490.0 646.2 540.0 652.0 560.0 654.0 590.0 663.0 620.0 672.0 700.0 699.0 727.5 712.5M443.0 612.5 476.3 627.5 509.0 636.0 560.0 644.1 620.0 660.3 700.0 685.0 740.0 708.0 747.0 712.5M561.8 712.0 571.7 701.7 574.4 712.0M311.0 110.0 318.0 115.0 327.0 118.4 338.6 118.4 356.0 110.0M90.0 599.2 168.0 606.9 200.0 618.4 248.0 624.0 266.7 620.0 282.7 610.0 298.3 597.0M303.0 591.0 314.8 578.4 330.9 568.0 347.0 578.4 360.0 583.2 365.0 587.5 382.5 612.5 392.5 634.0M427.0 602.3 443.0 602.0 466.0 608.0 509.0 625.0 560.0 634.2 620.0 650.4 700.0 673.8 740.0 693.6 759.6 712.5M90.0 617.9 120.0 620.0 168.0 629.0 202.5 636.3 232.5 643.0 250.0 638.8M321.0 591.0 330.9 580.0 346.0 591.0 362.5 605.0 372.5 622.5 377.5 635.0M90.0 634.9 115.0 640.0 140.0 651.3 170.0 656.3 180.0 665.0 184.5 678.8 185.5 690.0" fill="none" stroke="#000" stroke-width="1" stroke-linejoin="round" shape-rendering="crispEdges"/>
<g class="lb" font-size="13.2" stroke="#000" stroke-width="0.18"><g transform="translate(186 138.4) rotate(12)"><rect x="-9.9" y="-6.3" width="19.8" height="12.6" fill="#fff" stroke="none"/><text x="-8.1" y="4.4" textLength="16.2" lengthAdjust="spacingAndGlyphs" font-style="italic">36</text></g><g transform="translate(203 191) rotate(28)"><rect x="-9.9" y="-6.3" width="19.8" height="12.6" fill="#fff" stroke="none"/><text x="-8.1" y="4.4" textLength="16.2" lengthAdjust="spacingAndGlyphs" font-style="italic">34</text></g><g transform="translate(219 238) rotate(8)"><rect x="-9.9" y="-6.3" width="19.8" height="12.6" fill="#fff" stroke="none"/><text x="-8.1" y="4.4" textLength="16.2" lengthAdjust="spacingAndGlyphs" font-style="italic">32</text></g><g transform="translate(202 274) rotate(5)"><rect x="-9.9" y="-6.3" width="19.8" height="12.6" fill="#fff" stroke="none"/><text x="-8.1" y="4.4" textLength="16.2" lengthAdjust="spacingAndGlyphs" font-style="italic">30</text></g><g transform="translate(242.5 305.5) rotate(-48)"><rect x="-9.9" y="-6.3" width="19.8" height="12.6" fill="#fff" stroke="none"/><text x="-8.1" y="4.4" textLength="16.2" lengthAdjust="spacingAndGlyphs">28</text></g><g transform="translate(201.8 360.5) rotate(10)"><rect x="-9.9" y="-6.3" width="19.8" height="12.6" fill="#fff" stroke="none"/><text x="-8.1" y="4.4" textLength="16.2" lengthAdjust="spacingAndGlyphs" font-style="italic">26</text></g><g transform="translate(236.2 383) rotate(-28)"><rect x="-9.9" y="-6.3" width="19.8" height="12.6" fill="#fff" stroke="none"/><text x="-8.1" y="4.4" textLength="16.2" lengthAdjust="spacingAndGlyphs" font-style="italic">24</text></g><g transform="translate(170 445.5) rotate(5)"><rect x="-9.9" y="-6.3" width="19.8" height="12.6" fill="#fff" stroke="none"/><text x="-8.1" y="4.4" textLength="16.2" lengthAdjust="spacingAndGlyphs" font-style="italic">22</text></g><g transform="translate(237.5 503) rotate(42)"><rect x="-9.9" y="-6.3" width="19.8" height="12.6" fill="#fff" stroke="none"/><text x="-8.1" y="4.4" textLength="16.2" lengthAdjust="spacingAndGlyphs">20</text></g><g transform="translate(171.2 509.2) rotate(-5)"><rect x="-9.9" y="-6.3" width="19.8" height="12.6" fill="#fff" stroke="none"/><text x="-8.1" y="4.4" textLength="16.2" lengthAdjust="spacingAndGlyphs" font-style="italic">18</text></g><g transform="translate(187.5 556.2) rotate(30)"><rect x="-9.9" y="-6.3" width="19.8" height="12.6" fill="#fff" stroke="none"/><text x="-8.1" y="4.4" textLength="16.2" lengthAdjust="spacingAndGlyphs" font-style="italic">16</text></g><g transform="translate(218.8 608.8) rotate(10)"><rect x="-9.9" y="-6.3" width="19.8" height="12.6" fill="#fff" stroke="none"/><text x="-8.1" y="4.4" textLength="16.2" lengthAdjust="spacingAndGlyphs" font-style="italic">14</text></g><g transform="translate(426.8 150) rotate(15)"><rect x="-9.9" y="-6.3" width="19.8" height="12.6" fill="#fff" stroke="none"/><text x="-8.1" y="4.4" textLength="16.2" lengthAdjust="spacingAndGlyphs" font-style="italic">38</text></g><g transform="translate(363.8 182.5) rotate(-17)"><rect x="-9.9" y="-6.3" width="19.8" height="12.6" fill="#fff" stroke="none"/><text x="-8.1" y="4.4" textLength="16.2" lengthAdjust="spacingAndGlyphs" font-style="italic">36</text></g><g transform="translate(443.8 220) rotate(0)"><rect x="-9.9" y="-6.3" width="19.8" height="12.6" fill="#fff" stroke="none"/><text x="-8.1" y="4.4" textLength="16.2" lengthAdjust="spacingAndGlyphs">34</text></g><g transform="translate(443.8 251.8) rotate(0)"><rect x="-9.9" y="-6.3" width="19.8" height="12.6" fill="#fff" stroke="none"/><text x="-8.1" y="4.4" textLength="16.2" lengthAdjust="spacingAndGlyphs">32</text></g><g transform="translate(378.8 273.8) rotate(0)"><rect x="-9.9" y="-6.3" width="19.8" height="12.6" fill="#fff" stroke="none"/><text x="-8.1" y="4.4" textLength="16.2" lengthAdjust="spacingAndGlyphs">30</text></g><g transform="translate(378.8 308) rotate(0)"><rect x="-9.9" y="-6.3" width="19.8" height="12.6" fill="#fff" stroke="none"/><text x="-8.1" y="4.4" textLength="16.2" lengthAdjust="spacingAndGlyphs">28</text></g><g transform="translate(411.2 345) rotate(17)"><rect x="-9.9" y="-6.3" width="19.8" height="12.6" fill="#fff" stroke="none"/><text x="-8.1" y="4.4" textLength="16.2" lengthAdjust="spacingAndGlyphs" font-style="italic">26</text></g><g transform="translate(427 390.5) rotate(0)"><rect x="-9.9" y="-6.3" width="19.8" height="12.6" fill="#fff" stroke="none"/><text x="-8.1" y="4.4" textLength="16.2" lengthAdjust="spacingAndGlyphs">24</text></g><g transform="translate(363 424.5) rotate(-5)"><rect x="-9.9" y="-6.3" width="19.8" height="12.6" fill="#fff" stroke="none"/><text x="-8.1" y="4.4" textLength="16.2" lengthAdjust="spacingAndGlyphs" font-style="italic">22</text></g><g transform="translate(378.8 473.8) rotate(0)"><rect x="-9.9" y="-6.3" width="19.8" height="12.6" fill="#fff" stroke="none"/><text x="-8.1" y="4.4" textLength="16.2" lengthAdjust="spacingAndGlyphs">20</text></g><g transform="translate(412 537) rotate(20)"><rect x="-9.9" y="-6.3" width="19.8" height="12.6" fill="#fff" stroke="none"/><text x="-8.1" y="4.4" textLength="16.2" lengthAdjust="spacingAndGlyphs" font-style="italic">18</text></g><g transform="translate(443 567.5) rotate(5)"><rect x="-9.9" y="-6.3" width="19.8" height="12.6" fill="#fff" stroke="none"/><text x="-8.1" y="4.4" textLength="16.2" lengthAdjust="spacingAndGlyphs" font-style="italic">16</text></g><g transform="translate(668 137.8) rotate(0)"><rect x="-9.9" y="-6.3" width="19.8" height="12.6" fill="#fff" stroke="none"/><text x="-8.1" y="4.4" textLength="16.2" lengthAdjust="spacingAndGlyphs">40</text></g><g transform="translate(603.8 173.6) rotate(0)"><rect x="-9.9" y="-6.3" width="19.8" height="12.6" fill="#fff" stroke="none"/><text x="-8.1" y="4.4" textLength="16.2" lengthAdjust="spacingAndGlyphs">38</text></g><g transform="translate(652.8 203.4) rotate(0)"><rect x="-9.9" y="-6.3" width="19.8" height="12.6" fill="#fff" stroke="none"/><text x="-8.1" y="4.4" textLength="16.2" lengthAdjust="spacingAndGlyphs">36</text></g><g transform="translate(704.5 229.8) rotate(0)"><rect x="-9.9" y="-6.3" width="19.8" height="12.6" fill="#fff" stroke="none"/><text x="-8.1" y="4.4" textLength="16.2" lengthAdjust="spacingAndGlyphs">34</text></g><g transform="translate(652.8 259.4) rotate(0)"><rect x="-9.9" y="-6.3" width="19.8" height="12.6" fill="#fff" stroke="none"/><text x="-8.1" y="4.4" textLength="16.2" lengthAdjust="spacingAndGlyphs">32</text></g><g transform="translate(684.3 284.1) rotate(0)"><rect x="-9.9" y="-6.3" width="19.8" height="12.6" fill="#fff" stroke="none"/><text x="-8.1" y="4.4" textLength="16.2" lengthAdjust="spacingAndGlyphs">30</text></g><g transform="translate(652.3 316.6) rotate(0)"><rect x="-9.9" y="-6.3" width="19.8" height="12.6" fill="#fff" stroke="none"/><text x="-8.1" y="4.4" textLength="16.2" lengthAdjust="spacingAndGlyphs">28</text></g><g transform="translate(684 353.4) rotate(0)"><rect x="-9.9" y="-6.3" width="19.8" height="12.6" fill="#fff" stroke="none"/><text x="-8.1" y="4.4" textLength="16.2" lengthAdjust="spacingAndGlyphs">26</text></g><g transform="translate(700 401.4) rotate(0)"><rect x="-9.9" y="-6.3" width="19.8" height="12.6" fill="#fff" stroke="none"/><text x="-8.1" y="4.4" textLength="16.2" lengthAdjust="spacingAndGlyphs">24</text></g><g transform="translate(619.2 443.4) rotate(5)"><rect x="-9.9" y="-6.3" width="19.8" height="12.6" fill="#fff" stroke="none"/><text x="-8.1" y="4.4" textLength="16.2" lengthAdjust="spacingAndGlyphs" font-style="italic">22</text></g><g transform="translate(636.3 497.8) rotate(5)"><rect x="-9.9" y="-6.3" width="19.8" height="12.6" fill="#fff" stroke="none"/><text x="-8.1" y="4.4" textLength="16.2" lengthAdjust="spacingAndGlyphs" font-style="italic">20</text></g><g transform="translate(669.6 558.6) rotate(10)"><rect x="-9.9" y="-6.3" width="19.8" height="12.6" fill="#fff" stroke="none"/><text x="-8.1" y="4.4" textLength="16.2" lengthAdjust="spacingAndGlyphs" font-style="italic">18</text></g><g transform="translate(700.4 617.5) rotate(5)"><rect x="-9.9" y="-6.3" width="19.8" height="12.6" fill="#fff" stroke="none"/><text x="-8.1" y="4.4" textLength="16.2" lengthAdjust="spacingAndGlyphs" font-style="italic">16</text></g><g transform="translate(509.3 613.8) rotate(12)"><rect x="-9.9" y="-6.3" width="19.8" height="12.6" fill="#fff" stroke="none"/><text x="-8.1" y="4.4" textLength="16.2" lengthAdjust="spacingAndGlyphs" font-style="italic">14</text></g><g transform="translate(476.3 627.5) rotate(15)"><rect x="-9.9" y="-6.3" width="19.8" height="12.6" fill="#fff" stroke="none"/><text x="-8.1" y="4.4" textLength="16.2" lengthAdjust="spacingAndGlyphs" font-style="italic">12</text></g><g transform="translate(508.8 666.3) rotate(-17)"><rect x="-9.9" y="-6.3" width="19.8" height="12.6" fill="#fff" stroke="none"/><text x="-8.1" y="4.4" textLength="16.2" lengthAdjust="spacingAndGlyphs" font-style="italic">10</text></g></g>
<g shape-rendering="crispEdges"><path d="M139.5 723.5v-10M139.5 110v10" stroke="#000" stroke-width="1"/><path d="M189.1 723.5v-10M189.1 110v10" stroke="#000" stroke-width="1"/><path d="M238.6 723.5v-20M238.6 110v20" stroke="#000" stroke-width="2"/><path d="M288.1 723.5v-10M288.1 110v10" stroke="#000" stroke-width="1"/><path d="M337.7 723.5v-10M337.7 110v10" stroke="#000" stroke-width="1"/><path d="M387.2 723.5v-20M387.2 110v20" stroke="#000" stroke-width="2"/><path d="M436.7 723.5v-10M436.7 110v10" stroke="#000" stroke-width="1"/><path d="M486.3 723.5v-10M486.3 110v10" stroke="#000" stroke-width="1"/><path d="M535.8 723.5v-20M535.8 110v20" stroke="#000" stroke-width="2"/><path d="M585.3 723.5v-10M585.3 110v10" stroke="#000" stroke-width="1"/><path d="M634.9 723.5v-10M634.9 110v10" stroke="#000" stroke-width="1"/><path d="M684.4 723.5v-20M684.4 110v20" stroke="#000" stroke-width="2"/><path d="M733.9 723.5v-10M733.9 110v10" stroke="#000" stroke-width="1"/><path d="M783.5 723.5v-10M783.5 110v10" stroke="#000" stroke-width="1"/><path d="M833.0 723.5v-20M833.0 110v20" stroke="#000" stroke-width="2"/><path d="M882.5 723.5v-10M882.5 110v10" stroke="#000" stroke-width="1"/><path d="M90 689.4h14M909 689.4h-14" stroke="#000" stroke-width="1"/><path d="M90 655.3h14M909 655.3h-14" stroke="#000" stroke-width="1"/><path d="M90 621.2h28M909 621.2h-28" stroke="#000" stroke-width="2"/><path d="M90 587.2h14M909 587.2h-14" stroke="#000" stroke-width="1"/><path d="M90 553.1h14M909 553.1h-14" stroke="#000" stroke-width="1"/><path d="M90 519.0h28M909 519.0h-28" stroke="#000" stroke-width="2"/><path d="M90 484.9h14M909 484.9h-14" stroke="#000" stroke-width="1"/><path d="M90 450.8h14M909 450.8h-14" stroke="#000" stroke-width="1"/><path d="M90 416.8h28M909 416.8h-28" stroke="#000" stroke-width="2"/><path d="M90 382.7h14M909 382.7h-14" stroke="#000" stroke-width="1"/><path d="M90 348.6h14M909 348.6h-14" stroke="#000" stroke-width="1"/><path d="M90 314.5h28M909 314.5h-28" stroke="#000" stroke-width="2"/><path d="M90 280.4h14M909 280.4h-14" stroke="#000" stroke-width="1"/><path d="M90 246.3h14M909 246.3h-14" stroke="#000" stroke-width="1"/><path d="M90 212.2h28M909 212.2h-28" stroke="#000" stroke-width="2"/><path d="M90 178.2h14M909 178.2h-14" stroke="#000" stroke-width="1"/><path d="M90 144.1h14M909 144.1h-14" stroke="#000" stroke-width="1"/></g>
<rect x="90" y="110" width="819" height="613.5" fill="none" stroke="#000" stroke-width="2" shape-rendering="crispEdges"/>
<text x="90.0" y="754.5" font-size="26.6" text-anchor="middle" stroke="#000" stroke-width="0.4">0</text>
<text x="238.6" y="754.5" font-size="26.6" text-anchor="middle" stroke="#000" stroke-width="0.4">30</text>
<text x="387.2" y="754.5" font-size="26.6" text-anchor="middle" stroke="#000" stroke-width="0.4">60</text>
<text x="535.8" y="754.5" font-size="26.6" text-anchor="middle" stroke="#000" stroke-width="0.4">90</text>
<text x="684.4" y="754.5" font-size="26.6" text-anchor="middle" stroke="#000" stroke-width="0.4">120</text>
<text x="833.0" y="754.5" font-size="26.6" text-anchor="middle" stroke="#000" stroke-width="0.4">150</text>
<text x="80.5" y="733.7" font-size="26.8" text-anchor="end" stroke="#000" stroke-width="0.4">0</text>
<text x="80.5" y="631.5" font-size="26.8" text-anchor="end" stroke="#000" stroke-width="0.4">3</text>
<text x="80.5" y="529.2" font-size="26.8" text-anchor="end" stroke="#000" stroke-width="0.4">6</text>
<text x="80.5" y="426.9" font-size="26.8" text-anchor="end" stroke="#000" stroke-width="0.4">9</text>
<text x="80.5" y="324.7" font-size="26.8" text-anchor="end" stroke="#000" stroke-width="0.4">12</text>
<text x="80.5" y="222.4" font-size="26.8" text-anchor="end" stroke="#000" stroke-width="0.4">15</text>
<text x="80.5" y="120.2" font-size="26.8" text-anchor="end" stroke="#000" stroke-width="0.4">18</text>
<text x="417" y="790.8" font-size="25.6" textLength="164" lengthAdjust="spacingAndGlyphs" stroke="#000" stroke-width="0.45">Distance [nm]</text>
<text transform="translate(33.2 505.8) rotate(-90)" font-size="26" textLength="176.4" lengthAdjust="spacingAndGlyphs" stroke="#000" stroke-width="0.45">Height [Kft MSL]</text>
<text x="218.4" y="57.3" font-size="23" font-weight="bold" textLength="537.1" lengthAdjust="spacingAndGlyphs" stroke="#000" stroke-width="0.3">Angled Section: Vertical Velocity &amp; Pot.Temp.</text>
<text x="761" y="55.5" font-size="12" font-weight="bold" textLength="19.5" lengthAdjust="spacingAndGlyphs" stroke="#000" stroke-width="0.2">(C)</text>
<text x="253" y="76.3" font-size="18.8" textLength="137.8" lengthAdjust="spacingAndGlyphs" stroke="#000" stroke-width="0.35">Valid 1500 JST</text>
<text x="396" y="76.3" font-size="12.6" textLength="53.5" lengthAdjust="spacingAndGlyphs" stroke="#000" stroke-width="0.3">(0600Z)</text>
<text x="456" y="76.3" font-size="18.8" textLength="159.8" lengthAdjust="spacingAndGlyphs" stroke="#000" stroke-width="0.35">SAT 20 Feb 2016</text>
<text x="623.2" y="76.3" font-size="13.2" textLength="124.6" lengthAdjust="spacingAndGlyphs" stroke="#000" stroke-width="0.3">[12hrFcst@2148z]</text>
<text x="422.6" y="88.4" font-size="12.6" textLength="155.7" lengthAdjust="spacingAndGlyphs" stroke="#000" stroke-width="0.3">slice X,Y= 34,23@135°</text>
<rect x="133.00" y="816.5" width="38.63" height="7.5" fill="#0000e6" stroke="#000" stroke-width="1"/>
<rect x="171.63" y="816.5" width="38.63" height="7.5" fill="#0050f0" stroke="#000" stroke-width="1"/>
<rect x="210.26" y="816.5" width="38.63" height="7.5" fill="#00a0f0" stroke="#000" stroke-width="1"/>
<rect x="248.89" y="816.5" width="38.63" height="7.5" fill="#00f0f0" stroke="#000" stroke-width="1"/>
<rect x="287.53" y="816.5" width="38.63" height="7.5" fill="#00e0a0" stroke="#000" stroke-width="1"/>
<rect x="326.16" y="816.5" width="38.63" height="7.5" fill="#00c850" stroke="#000" stroke-width="1"/>
<rect x="364.79" y="816.5" width="38.63" height="7.5" fill="#00aa14" stroke="#000" stroke-width="1"/>
<rect x="403.42" y="816.5" width="38.63" height="7.5" fill="#50c000" stroke="#000" stroke-width="1"/>
<rect x="442.05" y="816.5" width="38.63" height="7.5" fill="#a0dc00" stroke="#000" stroke-width="1"/>
<rect x="480.68" y="816.5" width="38.63" height="7.5" fill="#f8f800" stroke="#000" stroke-width="1"/>
<rect x="519.32" y="816.5" width="38.63" height="7.5" fill="#ffe000" stroke="#000" stroke-width="1"/>
<rect x="557.95" y="816.5" width="38.63" height="7.5" fill="#ffc800" stroke="#000" stroke-width="1"/>
<rect x="596.58" y="816.5" width="38.63" height="7.5" fill="#ffaa00" stroke="#000" stroke-width="1"/>
<rect x="635.21" y="816.5" width="38.63" height="7.5" fill="#ff7800" stroke="#000" stroke-width="1"/>
<rect x="673.84" y="816.5" width="38.63" height="7.5" fill="#ff3c00" stroke="#000" stroke-width="1"/>
<rect x="712.47" y="816.5" width="38.63" height="7.5" fill="#ff0000" stroke="#000" stroke-width="1"/>
<rect x="751.11" y="816.5" width="38.63" height="7.5" fill="#c80028" stroke="#000" stroke-width="1"/>
<rect x="789.74" y="816.5" width="38.63" height="7.5" fill="#960050" stroke="#000" stroke-width="1"/>
<rect x="828.37" y="816.5" width="38.63" height="7.5" fill="#5a0082" stroke="#000" stroke-width="1"/>
<text x="133.0" y="844" font-size="18.6" text-anchor="middle" stroke="#000" stroke-width="0.35">-100</text>
<text x="248.9" y="844" font-size="18.6" text-anchor="middle" stroke="#000" stroke-width="0.35">-70</text>
<text x="364.8" y="844" font-size="18.6" text-anchor="middle" stroke="#000" stroke-width="0.35">-40</text>
<text x="480.7" y="844" font-size="18.6" text-anchor="middle" stroke="#000" stroke-width="0.35">-10</text>
<text x="596.6" y="844" font-size="18.6" text-anchor="middle" stroke="#000" stroke-width="0.35">20</text>
<text x="712.5" y="844" font-size="18.6" text-anchor="middle" stroke="#000" stroke-width="0.35">50</text>
<text x="828.4" y="844" font-size="18.6" text-anchor="middle" stroke="#000" stroke-width="0.35">80</text>
<text x="397" y="881.2" font-size="20.3" textLength="207" lengthAdjust="spacingAndGlyphs" stroke="#000" stroke-width="0.4">Vertical Velocity [cm/s]</text>
</svg></body></html>
